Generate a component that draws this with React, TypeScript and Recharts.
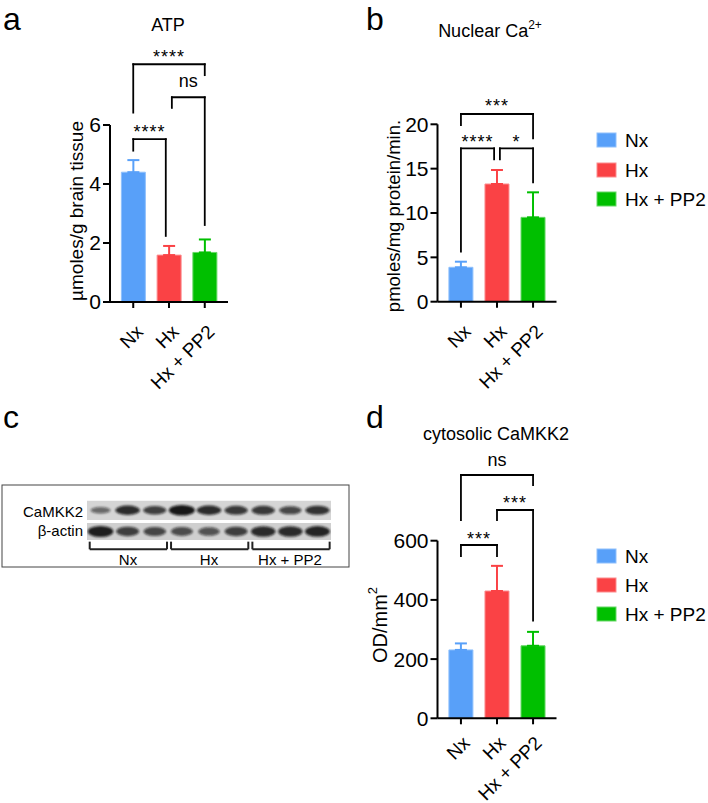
import React from 'react';
import {
  BarChart, Bar, XAxis, YAxis, Cell, ErrorBar, ReferenceLine, ReferenceDot,
  ScatterChart, Scatter, ReferenceArea,
} from 'recharts';

const FONT = '"Liberation Sans", Arial, Helvetica, sans-serif';

// ---------- data ----------
const groups = ['Nx', 'Hx', 'Hx + PP2'];
const colors = ['#58a0f9', '#fa4245', '#00bf00'];
const edgeColors = ['#8fc0fc', '#fc8c8e', '#66d866'];

const atpMean = [4.4, 1.59, 1.68];
const atpSem = [0.41, 0.31, 0.44];
const atpTicks = [0, 2, 4, 6];

const caMean = [3.88, 13.27, 9.51];
const caSem = [0.63, 1.58, 2.82];
const caTicks = [0, 5, 10, 15, 20];

const camMean = [231, 430, 245];
const camSem = [22, 85, 47];
const camTicks = [0, 200, 400, 600];

type Bracket = { from: number; to: number; top: number; leftEnd: number; rightEnd: number; text: string; textY: number };

const atpBrackets: Bracket[] = [
  { from: 0, to: 0.91, top: 5.52, leftEnd: 5.13, rightEnd: 2.24, text: '****', textY: 5.9 },
  { from: 1.08, to: 2, top: 6.94, leftEnd: 6.58, rightEnd: 2.61, text: 'ns', textY: 7.46 },
  { from: 0, to: 2, top: 8.06, leftEnd: 6.42, rightEnd: 7.69, text: '****', textY: 8.44 },
];
const caBrackets: Bracket[] = [
  { from: 0, to: 0.92, top: 17.29, leftEnd: 5.64, rightEnd: 16.05, text: '****', textY: 18.42 },
  { from: 1.08, to: 2, top: 17.29, leftEnd: 16.05, rightEnd: 13.46, text: '*', textY: 18.42 },
  { from: 0, to: 2, top: 21.16, leftEnd: 19.92, rightEnd: 18.42, text: '***', textY: 22.48 },
];
const camBrackets: Bracket[] = [
  { from: 0, to: 1, top: 585.5, leftEnd: 548.3, rightEnd: 548.3, text: '***', textY: 619 },
  { from: 1, to: 2, top: 703.7, leftEnd: 670, rightEnd: 329.7, text: '***', textY: 740 },
  { from: 0, to: 2, top: 822, leftEnd: 670, rightEnd: 788, text: 'ns', textY: 870 },
];

// western blot band intensities (9 lanes)
const camkk2Bands = [0.4, 0.85, 0.7, 1.0, 0.85, 0.75, 0.75, 0.65, 0.8];
const actinBands = [0.95, 0.7, 0.65, 0.6, 0.55, 0.7, 0.85, 0.85, 0.9];
const blotRows = ['CaMKK2', 'β-actin'];

// ---------- components ----------
const makeRotTick = (dx: number, dy: number) => (props: any) => {
  const { x, y, payload } = props;
  const ax = x + dx;
  const ay = y + dy;
  return (
    <text x={ax} y={ay} transform={`rotate(-45 ${ax} ${ay})`} textAnchor="end" fontSize={19} fill="#000">
      {groups[payload.value]}
    </text>
  );
};

const makeLabelShape = (text: string) => (p: any) => {
  const star = text.indexOf('*') >= 0;
  return (
    <text x={p.cx} y={p.cy + (star ? 10 : 5)} textAnchor="middle" fontSize={18} fill="#000" letterSpacing={star ? 1 : 0}>
      {text}
    </text>
  );
};

type PanelProps = {
  left: number; top: number; width: number; height: number;
  margin: { top: number; right: number; bottom: number; left: number };
  yWidth: number;
  means: number[]; sems: number[]; ticks: number[];
  brackets: Bracket[];
  tickDx: number; tickDy: number;
};

function BarPanel(pp: PanelProps) {
  const data = groups.map((g, i) => {
    const row: any = { x: i, name: g, value: pp.means[i] };
    row['e' + i] = [0, pp.sems[i]];
    return row;
  });
  const ymax = pp.ticks[pp.ticks.length - 1];
  const Tick = makeRotTick(pp.tickDx, pp.tickDy);
  return (
    <div style={{ position: 'absolute', left: pp.left, top: pp.top }}>
      <BarChart width={pp.width} height={pp.height} data={data} margin={pp.margin}>
        <XAxis
          type="number" dataKey="x" domain={[-0.65, 2.65]} ticks={[0, 1, 2]} allowDataOverflow
          height={70} interval={0} tick={<Tick />} tickSize={6}
          axisLine={{ stroke: '#000', strokeWidth: 2 }} tickLine={{ stroke: '#000', strokeWidth: 2 }}
        />
        <YAxis
          type="number" domain={[0, ymax]} ticks={pp.ticks} allowDataOverflow width={pp.yWidth} interval={0}
          tickSize={7} tickMargin={2} tick={{ fontSize: 21, fill: '#000' }}
          axisLine={{ stroke: '#000', strokeWidth: 2 }} tickLine={{ stroke: '#000', strokeWidth: 2 }}
        />
        <Bar dataKey="value" barSize={24} isAnimationActive={false}>
          {data.map((d, i) => (
            <Cell key={i} fill={colors[i]} stroke={edgeColors[i]} strokeWidth={1} />
          ))}
          {groups.map((g, i) => (
            <ErrorBar key={g} dataKey={'e' + i} direction="y" width={6} stroke={colors[i]} strokeWidth={2} isAnimationActive={false} />
          ))}
        </Bar>
        {pp.brackets.map((b, i) => (
          <ReferenceLine key={'h' + i} ifOverflow="visible" stroke="#000" strokeWidth={1.8} strokeLinecap="square"
            segment={[{ x: b.from, y: b.top }, { x: b.to, y: b.top }]} />
        ))}
        {pp.brackets.map((b, i) => (
          <ReferenceLine key={'l' + i} ifOverflow="visible" stroke="#000" strokeWidth={1.8} strokeLinecap="square"
            segment={[{ x: b.from, y: b.top }, { x: b.from, y: b.leftEnd }]} />
        ))}
        {pp.brackets.map((b, i) => (
          <ReferenceLine key={'r' + i} ifOverflow="visible" stroke="#000" strokeWidth={1.8} strokeLinecap="square"
            segment={[{ x: b.to, y: b.top }, { x: b.to, y: b.rightEnd }]} />
        ))}
        {pp.brackets.map((b, i) => (
          <ReferenceDot key={'t' + i} ifOverflow="visible" x={(b.from + b.to) / 2} y={b.textY} r={0}
            shape={makeLabelShape(b.text)} />
        ))}
      </BarChart>
    </div>
  );
}

const BandShape = (p: any) => {
  const I = p.payload.v;
  const big = p.payload.row === 1;
  const rx = 8 + 5 * I;
  const ry = (big ? 2 : 2.5) + 3.2 * I;
  return (
    <ellipse cx={p.cx} cy={p.cy} rx={rx} ry={ry} fill="#111" fillOpacity={0.3 + 0.65 * I} filter="url(#bandBlur)" />
  );
};

function Blot() {
  const data = [
    ...camkk2Bands.map((v, i) => ({ lane: i, row: 1, v })),
    ...actinBands.map((v, i) => ({ lane: i, row: 0, v })),
  ];
  const groupIdx = [0, 1, 2];
  return (
    <div style={{ position: 'absolute', left: 87, top: 495 }}>
      <ScatterChart width={244} height={60} margin={{ top: 0, right: 0, bottom: 0, left: 0 }}>
        <XAxis type="number" dataKey="lane" domain={[-0.5, 8.5]} allowDataOverflow hide />
        <YAxis type="number" dataKey="row" domain={[-1.11, 1.72]} allowDataOverflow hide />
        <ReferenceArea x1={-0.5} x2={8.5} y1={0.54} y2={1.45} fill="#d5d5d5" fillOpacity={1} stroke="none" ifOverflow="visible" />
        <ReferenceArea x1={-0.5} x2={8.5} y1={-0.4} y2={0.4} fill="#cfcfcf" fillOpacity={1} stroke="none" ifOverflow="visible" />
        <Scatter data={data} shape={<BandShape />} isAnimationActive={false} />
        {groupIdx.map((g) => (
          <ReferenceLine key={'gh' + g} ifOverflow="visible" stroke="#222" strokeWidth={2}
            segment={[{ x: 3 * g - 0.4, y: -0.84 }, { x: 3 * g + 2.45, y: -0.84 }]} />
        ))}
        {groupIdx.map((g) => (
          <ReferenceLine key={'gl' + g} ifOverflow="visible" stroke="#222" strokeWidth={2}
            segment={[{ x: 3 * g - 0.4, y: -0.84 }, { x: 3 * g - 0.4, y: -0.48 }]} />
        ))}
        {groupIdx.map((g) => (
          <ReferenceLine key={'gr' + g} ifOverflow="visible" stroke="#222" strokeWidth={2}
            segment={[{ x: 3 * g + 2.45, y: -0.84 }, { x: 3 * g + 2.45, y: -0.48 }]} />
        ))}
      </ScatterChart>
    </div>
  );
}

function Legend({ rows }: { rows: number[] }) {
  return (
    <g>
      {groups.map((g, i) => (
        <g key={g}>
          <rect x={597} y={rows[i] - 7} width={19} height={14} fill={colors[i]} stroke={edgeColors[i]} strokeWidth={1} />
          <text x={625} y={rows[i] + 7} fontSize={19} fill="#000">{g}</text>
        </g>
      ))}
    </g>
  );
}

export default function App() {
  return (
    <div style={{ position: 'absolute', left: 0, top: 0, width: 708, height: 803, background: '#fff', fontFamily: FONT, overflow: 'hidden' }}>
      <BarPanel left={0} top={0} width={240} height={398}
        margin={{ top: 125, right: 12, bottom: 26, left: 0 }} yWidth={110}
        means={atpMean} sems={atpSem} ticks={atpTicks} brackets={atpBrackets} tickDx={11} tickDy={23} />
      <BarPanel left={330} top={0} width={240} height={398}
        margin={{ top: 124.3, right: 13.5, bottom: 26.3, left: 0 }} yWidth={107.5}
        means={caMean} sems={caSem} ticks={caTicks} brackets={caBrackets} tickDx={11} tickDy={23} />
      <BarPanel left={330} top={400} width={240} height={403}
        margin={{ top: 140.7, right: 13.5, bottom: 14.7, left: 0 }} yWidth={107.5}
        means={camMean} sems={camSem} ticks={camTicks} brackets={camBrackets} tickDx={10} tickDy={18} />
      <Blot />
      <svg width={708} height={803} style={{ position: 'absolute', left: 0, top: 0, pointerEvents: 'none' }} fontFamily={FONT}>
        <defs>
          <filter id="bandBlur" x="-50%" y="-100%" width="200%" height="300%">
            <feGaussianBlur stdDeviation="1.3" />
          </filter>
        </defs>
        {/* panel letters */}
        <text x={3} y={30} fontSize={32} fill="#000">a</text>
        <text x={366} y={30} fontSize={32} fill="#000">b</text>
        <text x={3} y={428} fontSize={32} fill="#000">c</text>
        <text x={366} y={428} fontSize={32} fill="#000">d</text>
        {/* titles */}
        <text x={168} y={31} fontSize={18} textAnchor="middle" fill="#000">ATP</text>
        <text x={490} y={37} fontSize={18} textAnchor="middle" fill="#000">
          Nuclear Ca<tspan fontSize={12} dy={-8}>2+</tspan>
        </text>
        <text x={496} y={440} fontSize={18} textAnchor="middle" fill="#000">cytosolic CaMKK2</text>
        {/* y labels */}
        <text transform="translate(76 211) rotate(-90)" fontSize={19} textAnchor="middle" dominantBaseline="central" fill="#000">µmoles/g brain tissue</text>
        <text transform="translate(393 216) rotate(-90)" fontSize={18.5} textAnchor="middle" dominantBaseline="central" fill="#000">pmoles/mg protein/min.</text>
        <text transform="translate(380 625) rotate(-90)" fontSize={20} textAnchor="middle" dominantBaseline="central" fill="#000">
          OD/mm<tspan fontSize={13} dy={-8}>2</tspan>
        </text>
        {/* legends */}
        <Legend rows={[140, 170, 199]} />
        <Legend rows={[556, 585, 614]} />
        {/* blot frame and labels */}
        <rect x={2} y={485} width={347} height={82} fill="none" stroke="#444" strokeWidth={1} />
        <text x={83} y={517} fontSize={15} textAnchor="end" fill="#000">{blotRows[0]}</text>
        <text x={83} y={536} fontSize={15} textAnchor="end" fill="#000">{blotRows[1]}</text>
        <text x={128} y={565} fontSize={15} textAnchor="middle" fill="#000">{groups[0]}</text>
        <text x={209} y={565} fontSize={15} textAnchor="middle" fill="#000">{groups[1]}</text>
        <text x={290} y={565} fontSize={15} textAnchor="middle" fill="#000">{groups[2]}</text>
      </svg>
    </div>
  );
}
